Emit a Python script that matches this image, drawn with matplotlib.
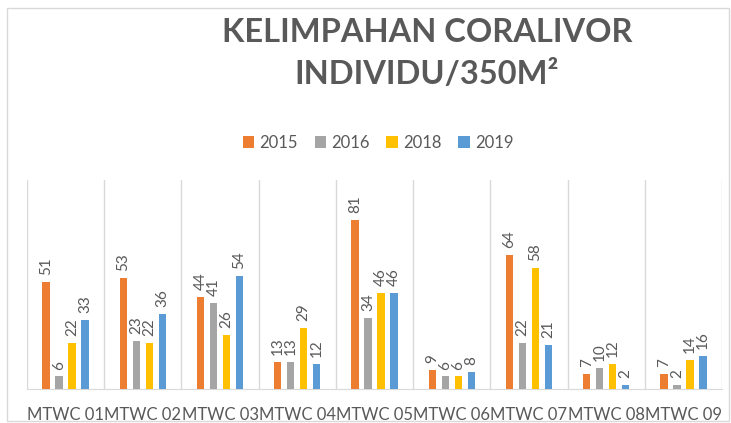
import matplotlib.pyplot as plt
import matplotlib.patches as patches
import numpy as np

plt.rcParams['font.family'] = ['Lato', 'DejaVu Sans']

# Data
stations = ["MTWC 01", "MTWC 02", "MTWC 03", "MTWC 04", "MTWC 05",
            "MTWC 06", "MTWC 07", "MTWC 08", "MTWC 09"]
years = ["2015", "2016", "2018", "2019"]
v2015 = [51, 53, 44, 13, 81, 9, 64, 7, 7]
v2016 = [6, 23, 41, 13, 34, 6, 22, 10, 2]
v2018 = [22, 22, 26, 29, 46, 6, 58, 12, 14]
v2019 = [33, 36, 54, 12, 46, 8, 21, 2, 16]

colors = ["#ED7D31", "#A5A5A5", "#FFC000", "#5B9BD5"]
text_color = "#595959"

fig = plt.figure(figsize=(7.31, 4.23), dpi=100)
ax = fig.add_axes([27 / 731, 34 / 423, 695 / 731, 209 / 423])

x = np.arange(len(stations))
step = 0.168
width = 0.095
series = [v2015, v2016, v2018, v2019]
for i, vals in enumerate(series):
    bars = ax.bar(x + (i - 1.5) * step, vals, width, color=colors[i], label=years[i], zorder=3)
    ax.bar_label(bars, rotation=90, padding=5, color=text_color, fontsize=11)

ax.set_xlim(-0.5, len(stations) - 0.5)
ax.set_ylim(0, 100)
ax.set_yticks([])
ax.set_xticks(x)
ax.set_xticklabels(stations, fontsize=12, color=text_color)
ax.tick_params(axis='x', length=0, pad=13)

# separators between groups
ax.set_xticks(np.arange(-0.5, len(stations)), minor=True)
ax.tick_params(axis='x', which='minor', length=0)
ax.grid(True, axis='x', which='minor', color='#D9D9D9', linewidth=1, zorder=0)
ax.grid(False, axis='x', which='major')

for s in ['top', 'right', 'left']:
    ax.spines[s].set_visible(False)
ax.spines['bottom'].set_color('#D9D9D9')

fig.text(427 / 731, 1 - 33 / 423, "KELIMPAHAN CORALIVOR", ha='center', va='center',
         fontsize=23.5, fontweight='bold', color=text_color)
fig.text(427 / 731, 1 - 75 / 423, "INDIVIDU/350M²", ha='center', va='center',
         fontsize=23.5, fontweight='bold', color=text_color)

fig.legend(loc='center', bbox_to_anchor=(378 / 731, 1 - 143 / 423), ncol=4, frameon=False,
           fontsize=12, handlelength=0.7, handleheight=0.7, handletextpad=0.3,
           columnspacing=1.0, labelcolor=text_color)

border = patches.Rectangle((7 / 731, 2 / 423), 722 / 731, 413 / 423, transform=fig.transFigure,
                           fill=False, edgecolor='#D9D9D9', linewidth=1)
fig.patches.append(border)

fig.savefig("out.png", dpi=100)
